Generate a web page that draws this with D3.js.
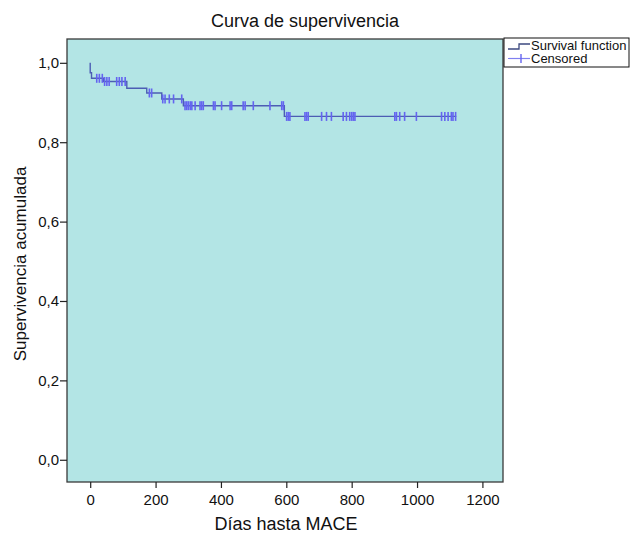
<!DOCTYPE html>
<html>
<head>
<meta charset="utf-8">
<script src="https://cdn.jsdelivr.net/npm/d3@7"></script>
<style>
    body { margin: 0; background: #fff; }
    svg text { font-family: "Liberation Sans", Arial, Helvetica, sans-serif; fill: #111; }
</style>
</head>
<body>
<div id="chart"></div>
<script>
// Kaplan-Meier steps: day of each drop and the survival level right after it
const eventDays = [0, 4, 40, 112, 173, 219, 285, 594];
const survAfter = [0.975, 0.961, 0.953, 0.936, 0.924, 0.909, 0.892, 0.865];
const lastDay = 1120;

// Censored observations (days)
const censoredDays = [
    20, 28, 37, 44, 51, 58, 81, 89, 97, 107,
    181, 188, 222, 229, 242, 255, 280,
    290, 295, 300, 306, 311, 321, 336, 341, 346, 377, 382, 402, 428, 433,
    468, 474, 499, 550, 586, 591,
    601, 606, 611, 657, 662, 667, 708, 723, 738, 774, 784, 794, 800, 805, 810,
    932, 937, 947, 962, 998, 1075, 1085, 1095, 1105, 1110, 1118
];

const xTicks = [0, 200, 400, 600, 800, 1000, 1200];
const yTicks = [0, 0.2, 0.4, 0.6, 0.8, 1.0];

const width = 631, height = 535;
const plot = { left: 67, right: 503, top: 39, bottom: 482 };

const svg = d3.select('#chart').append('svg')
    .attr('width', width)
    .attr('height', height);

const x = d3.scaleLinear()
    .domain([-71, 1263])
    .range([plot.left, plot.right]);

const y = d3.scaleLinear()
    .domain([-0.056, 1.06])
    .range([plot.bottom, plot.top]);

// survival level at a given day
function survAt(day) {
    let s = 1;
    eventDays.forEach((d, i) => { if (d <= day) s = survAfter[i]; });
    return s;
}

// plot background
svg.append('rect')
    .attr('x', plot.left)
    .attr('y', plot.top)
    .attr('width', plot.right - plot.left)
    .attr('height', plot.bottom - plot.top)
    .attr('fill', '#b3e5e5')
    .attr('stroke', '#3a3a3a')
    .attr('stroke-width', 1.3);

// step curve
const stepPoints = [[0, 1]];
eventDays.forEach((d, i) => stepPoints.push([d, survAfter[i]]));
stepPoints.push([lastDay, survAfter[survAfter.length - 1]]);

svg.append('path')
    .datum(stepPoints)
    .attr('fill', 'none')
    .attr('stroke', '#4c5db4')
    .attr('stroke-width', 1.4)
    .attr('d', d3.line()
        .x(d => x(d[0]))
        .y(d => y(d[1]))
        .curve(d3.curveStepAfter));

// censored marks
svg.selectAll('.censor')
    .data(censoredDays)
    .enter()
    .append('line')
    .attr('class', 'censor')
    .attr('x1', d => x(d))
    .attr('x2', d => x(d))
    .attr('y1', d => y(survAt(d)) - 4.5)
    .attr('y2', d => y(survAt(d)) + 4.5)
    .attr('stroke', '#6464f0')
    .attr('stroke-width', 1.6);

// x axis
const xAxis = svg.append('g')
    .attr('transform', `translate(0,${plot.bottom})`)
    .call(d3.axisBottom(x).tickValues(xTicks).tickSize(6).tickPadding(6).tickSizeOuter(0)
        .tickFormat(d3.format('d')));
xAxis.select('.domain').remove();
xAxis.selectAll('.tick line').attr('stroke', '#222').attr('stroke-width', 1.2);
xAxis.selectAll('.tick text').style('font-size', '15px').attr('fill', '#111');

// y axis
const yAxis = svg.append('g')
    .attr('transform', `translate(${plot.left},0)`)
    .call(d3.axisLeft(y).tickValues(yTicks).tickSize(7).tickPadding(1)
        .tickFormat(d => d3.format('.1f')(d).replace('.', ',')));
yAxis.select('.domain').remove();
yAxis.selectAll('.tick line').attr('stroke', '#222').attr('stroke-width', 1.2);
yAxis.selectAll('.tick text').style('font-size', '15px').attr('fill', '#111');

// title
svg.append('text')
    .attr('x', 305)
    .attr('y', 27)
    .attr('text-anchor', 'middle')
    .style('font-size', '18px')
    .text('Curva de supervivencia');

// axis labels
svg.append('text')
    .attr('x', 286)
    .attr('y', 530)
    .attr('text-anchor', 'middle')
    .style('font-size', '18px')
    .text('Días hasta MACE');

svg.append('text')
    .attr('transform', 'rotate(-90)')
    .attr('x', -264)
    .attr('y', 26)
    .attr('text-anchor', 'middle')
    .style('font-size', '17px')
    .text('Supervivencia acumulada');

// legend
const legend = svg.append('g');
legend.append('rect')
    .attr('x', 504)
    .attr('y', 38)
    .attr('width', 125)
    .attr('height', 29)
    .attr('fill', '#fff')
    .attr('stroke', '#111')
    .attr('stroke-width', 1);

legend.append('path')
    .attr('d', 'M508,49 H519 V44 H530')
    .attr('fill', 'none')
    .attr('stroke', '#3d4a80')
    .attr('stroke-width', 1.3);

legend.append('line')
    .attr('x1', 508).attr('x2', 530)
    .attr('y1', 58.5).attr('y2', 58.5)
    .attr('stroke', '#8080f0')
    .attr('stroke-width', 1.2);
legend.append('line')
    .attr('x1', 521).attr('x2', 521)
    .attr('y1', 54).attr('y2', 63)
    .attr('stroke', '#6464f0')
    .attr('stroke-width', 1.4);

legend.append('text')
    .attr('x', 531)
    .attr('y', 49.5)
    .style('font-size', '13px')
    .text('Survival function');
legend.append('text')
    .attr('x', 531)
    .attr('y', 63)
    .style('font-size', '13px')
    .text('Censored');
</script>
</body>
</html>
